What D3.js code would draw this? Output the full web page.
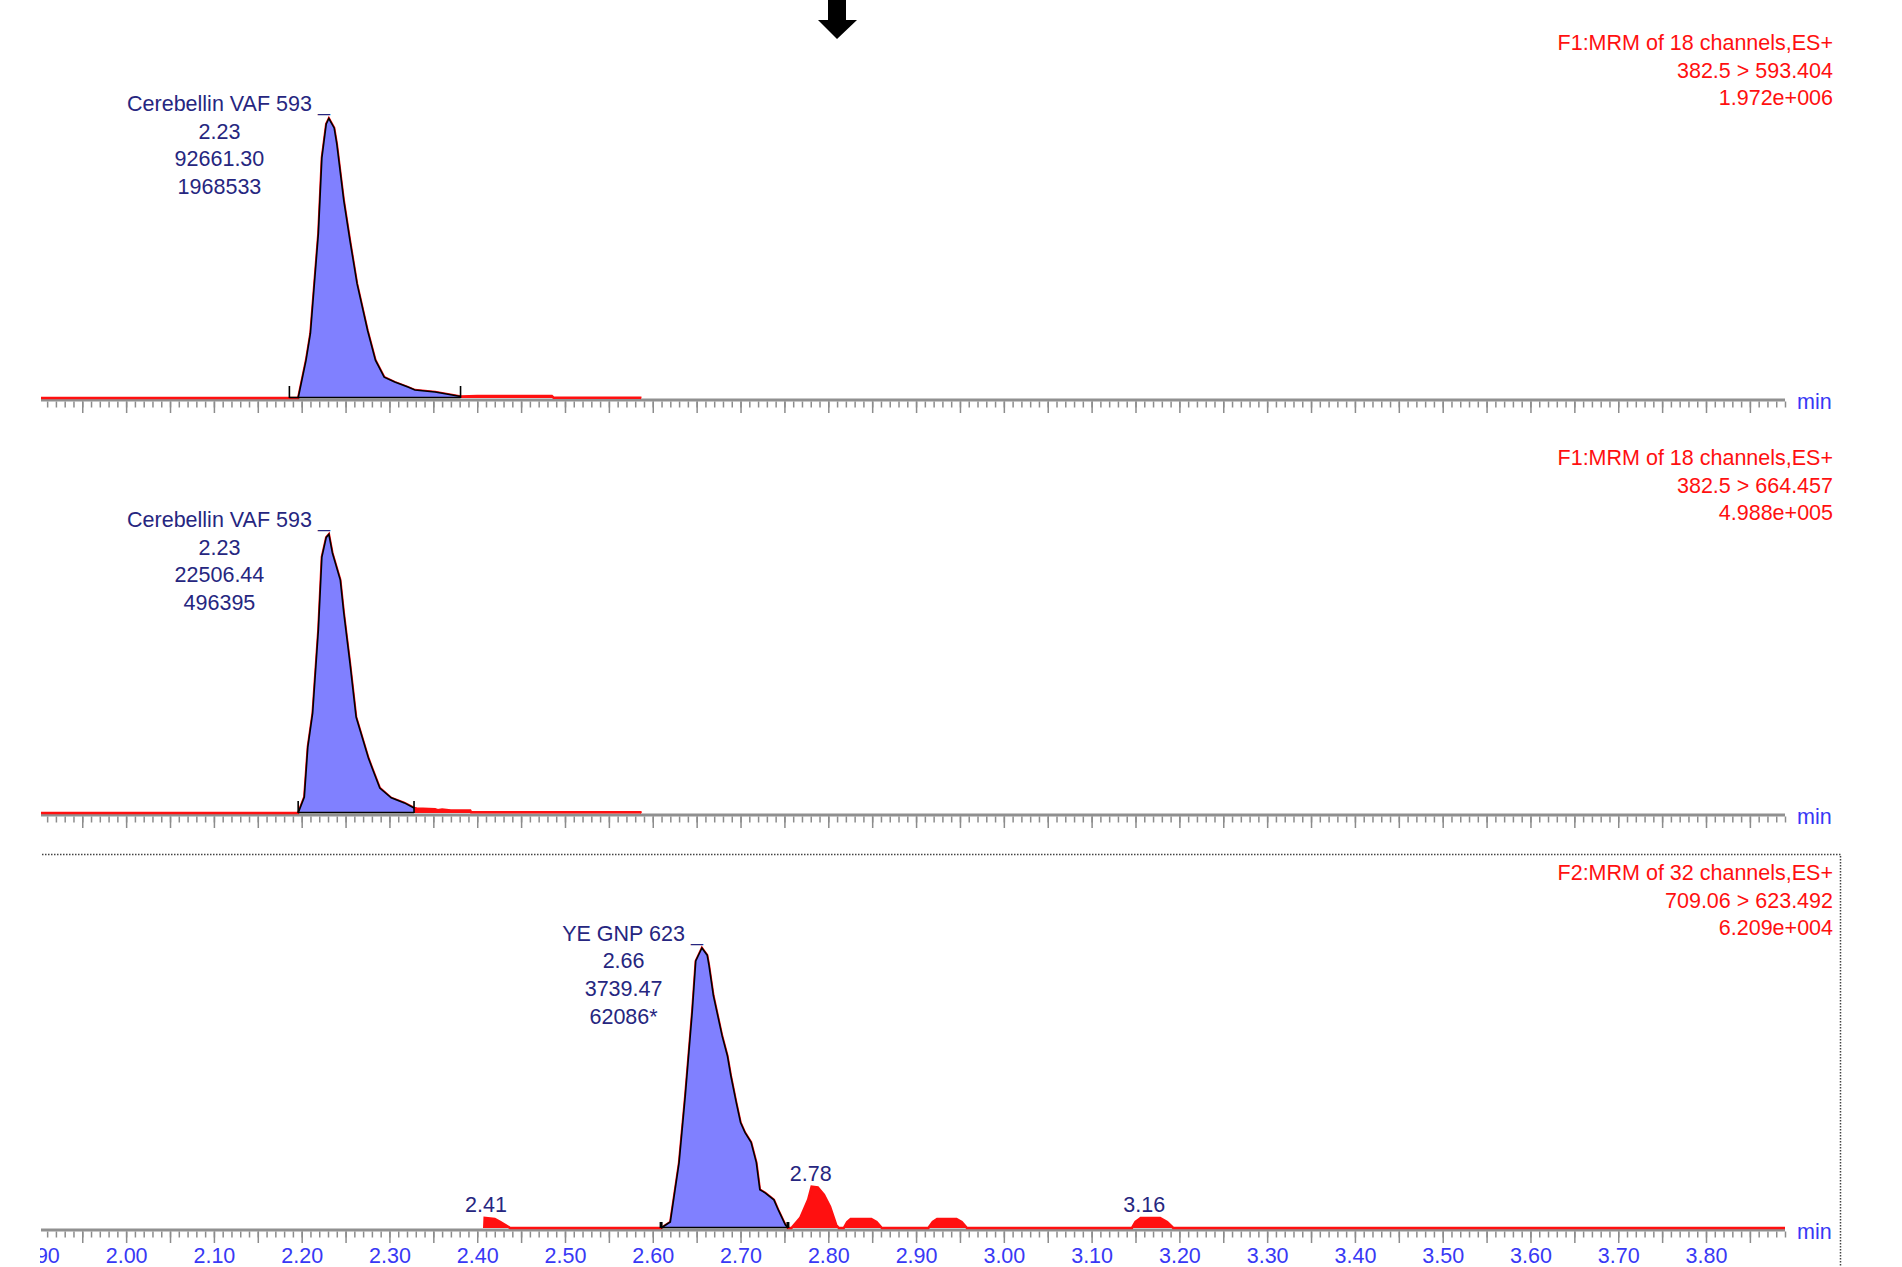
<!DOCTYPE html>
<html>
<head>
<meta charset="utf-8">
<script src="https://cdn.jsdelivr.net/npm/d3@7"></script>
<style>
  body { margin: 0; background: #fff; }
  svg { display: block; font-family: "Liberation Sans", Arial, sans-serif; }
</style>
</head>
<body>
<svg id="chart" width="1902" height="1267"></svg>
<script>
// Axis labels (min)
const tickLabels = ["1.90", "2.00", "2.10", "2.20", "2.30", "2.40", "2.50", "2.60", "2.70", "2.80",
                    "2.90", "3.00", "3.10", "3.20", "3.30", "3.40", "3.50", "3.60", "3.70", "3.80"];

// Header text for each trace
const headers = [
    ["F1:MRM of 18 channels,ES+", "382.5 > 593.404", "1.972e+006"],
    ["F1:MRM of 18 channels,ES+", "382.5 > 664.457", "4.988e+005"],
    ["F2:MRM of 32 channels,ES+", "709.06 > 623.492", "6.209e+004"]
];
const fullScale = [1.972e6, 4.988e5, 6.209e4];

// Chromatogram traces: [time (min), intensity]
const trace1 = [
    [1.903, 0], [2.196, 0], [2.205, 267000], [2.210, 456000], [2.219, 1158000], [2.223, 1691000],
    [2.228, 1930000], [2.231, 1968533], [2.237, 1902000], [2.240, 1790000], [2.248, 1389000],
    [2.255, 1109000], [2.263, 807000], [2.275, 477000], [2.284, 267000], [2.294, 147000],
    [2.306, 112000], [2.321, 77000], [2.329, 56000], [2.352, 42000], [2.365, 28000], [2.381, 10000],
    [2.400, 14000], [2.485, 14000], [2.487, 2000], [2.586, 2000], [2.587, 0]
];
const trace2 = [
    [1.903, 0], [2.196, 0], [2.203, 28500], [2.207, 117500], [2.2125, 178000], [2.219, 326000],
    [2.223, 456000], [2.228, 491000], [2.231, 496395], [2.235, 463000], [2.244, 415000],
    [2.248, 356000], [2.255, 267000], [2.262, 171000], [2.276, 98000], [2.281, 77000],
    [2.289, 44500], [2.302, 27000], [2.317, 18000], [2.328, 9000], [2.331, 8000], [2.345, 7000],
    [2.352, 6500], [2.355, 5000], [2.360, 6000], [2.370, 4500], [2.392, 4500], [2.393, 1500],
    [2.586, 1500], [2.587, 0]
];
const trace3 = [
    [2.408, 0], [2.4085, 2230], [2.420, 2010], [2.426, 1340], [2.434, 450], [2.4375, 0],
    [2.6095, 0], [2.620, 1340], [2.630, 14500], [2.637, 29250], [2.645, 48000], [2.649, 59200],
    [2.656, 62086], [2.662, 60500], [2.664, 58300], [2.669, 51600], [2.674, 47100], [2.679, 42600],
    [2.685, 38200], [2.689, 33700], [2.695, 27900], [2.700, 23400], [2.705, 21200], [2.712, 19000],
    [2.718, 14500], [2.722, 8500], [2.728, 7800], [2.738, 6250], [2.743, 4000], [2.751, 700],
    [2.754, 0],
    [2.758, 0], [2.768, 2230], [2.777, 6250], [2.781, 9155], [2.788, 9000], [2.795, 7370],
    [2.802, 4690], [2.809, 670], [2.812, 0],
    [2.8176, 0], [2.8215, 1340], [2.8255, 2010], [2.849, 2010], [2.855, 1340], [2.861, 0],
    [2.914, 0], [2.919, 1340], [2.924, 2010], [2.946, 2010], [2.952, 1340], [2.958, 0],
    [3.146, 0], [3.150, 1340], [3.156, 2230], [3.178, 2230], [3.186, 1340], [3.193, 0],
    [3.890, 0]
];
const traces = [trace1, trace2, trace3];

// Integrated peaks
const peakWindows = [[2.196, 2.381], [2.196, 2.328], [2.6095, 2.754]];
const peakMarkers = [[2.186, 2.381], [2.196, 2.328], [2.6095, 2.754]];
const peakNames = ["Cerebellin VAF 593", "Cerebellin VAF 593", "YE GNP 623"];
const peakRT = ["2.23", "2.23", "2.66"];
const peakArea = ["92661.30", "22506.44", "3739.47"];
const peakHeight = ["1968533", "496395", "62086*"];

// Unintegrated peaks labelled on the last trace
const minorRT = [2.41, 2.78, 3.16];
const minorTop = [2230, 9155, 2230];
const minorText = ["2.41", "2.78", "3.16"];

// Layout
const baselines = [398, 813, 1228];
const plotH = 280;
const fontSize = 21.5;
const lineGap = 27.7;
const red = "#ff1010";
const navy = "#262680";
const blue = "#3838f5";

const svg = d3.select("#chart");

svg.append("defs").append("clipPath")
    .attr("id", "leftClip")
    .append("rect")
    .attr("x", 40).attr("y", 0).attr("width", 1862).attr("height", 1267);

const x = d3.scaleLinear().domain([1.903, 3.89]).range([41, 1785]);

const minorTicks = d3.range(191, 390).map(v => v / 100);
const longTicks = d3.range(190, 390, 5).map(v => v / 100);
const labelTicks = tickLabels.map(Number);

traces.forEach((trace, i) => {
    const base = baselines[i];
    const y = d3.scaleLinear().domain([0, fullScale[i]]).range([base, base - plotH]);
    const g = svg.append("g").attr("clip-path", "url(#leftClip)");

    // gray time axis
    g.append("line")
        .attr("x1", x(1.903)).attr("x2", x(3.89))
        .attr("y1", base + 2).attr("y2", base + 2)
        .attr("stroke", "#909090").attr("stroke-width", 3);

    const tickG = g.append("g").attr("transform", `translate(0,${base + 3.5})`);
    tickG.append("g")
        .call(d3.axisBottom(x).tickValues(minorTicks).tickSize(6).tickFormat(""));
    tickG.append("g")
        .call(d3.axisBottom(x).tickValues(longTicks).tickSize(11.5).tickFormat(""));
    tickG.selectAll(".domain").remove();
    tickG.selectAll(".tick line").attr("stroke", "#8c8c8c").attr("stroke-width", 1.5);

    if (i === 2) {
        const lab = g.append("g").attr("transform", `translate(0,${base})`)
            .call(d3.axisBottom(x).tickValues(labelTicks).tickSize(0).tickPadding(0)
                .tickFormat((d, k) => tickLabels[k]));
        lab.select(".domain").remove();
        lab.selectAll("text")
            .attr("y", 34.5).attr("dy", null)
            .attr("fill", blue)
            .style("font-size", fontSize + "px")
            .style("font-family", "\"Liberation Sans\", Arial, sans-serif");
    }

    // raw trace in red
    g.append("path")
        .datum(trace)
        .attr("fill", red)
        .attr("d", d3.area().x(d => x(d[0])).y0(base).y1(d => y(d[1])));
    g.append("path")
        .datum(trace)
        .attr("fill", "none")
        .attr("stroke", red)
        .attr("stroke-width", 2.5)
        .attr("d", d3.line().x(d => x(d[0])).y(d => y(d[1])));

    // integrated peak
    const [t0, t1] = peakWindows[i];
    const peak = trace.filter(d => d[0] >= t0 && d[0] <= t1);
    g.append("path")
        .datum(peak)
        .attr("fill", "#8080ff")
        .attr("d", d3.area().x(d => x(d[0])).y0(base).y1(d => y(d[1])));
    g.append("path")
        .datum(peak)
        .attr("fill", "none")
        .attr("stroke", "#000")
        .attr("stroke-width", 1.6)
        .attr("d", d3.line().x(d => x(d[0])).y(d => y(d[1])));

    const [m0, m1] = peakMarkers[i];
    g.append("line")
        .attr("x1", x(m0)).attr("x2", x(m1))
        .attr("y1", base - 0.5).attr("y2", base - 0.5)
        .attr("stroke", "#000").attr("stroke-width", 1.6);

    const markLen = i === 2 ? 6 : 12;
    const markW = i === 2 ? 3 : 1.6;
    [m0, m1].forEach(t => {
        g.append("line")
            .attr("x1", x(t)).attr("x2", x(t))
            .attr("y1", base).attr("y2", base - markLen)
            .attr("stroke", "#000").attr("stroke-width", markW);
    });

    // peak annotation
    const apex = peak.reduce((a, b) => (b[1] > a[1] ? b : a));
    const ax = x(apex[0]), ay = y(apex[1]);
    const textY = ay - 7.5;
    g.append("text")
        .attr("x", ax + 1).attr("y", textY)
        .attr("text-anchor", "end")
        .attr("fill", navy)
        .style("font-size", fontSize + "px")
        .text("_");
    const nameNode = g.append("text")
        .attr("x", ax - 17).attr("y", textY)
        .attr("text-anchor", "end")
        .attr("fill", navy)
        .style("font-size", fontSize + "px")
        .text(peakNames[i]);
    const cx = ax - 17 - nameNode.node().getComputedTextLength() / 2;
    [peakRT[i], peakArea[i], peakHeight[i]].forEach((s, k) => {
        g.append("text")
            .attr("x", cx).attr("y", textY + lineGap * (k + 1))
            .attr("text-anchor", "middle")
            .attr("fill", navy)
            .style("font-size", fontSize + "px")
            .text(s);
    });

    // header at right
    headers[i].forEach((s, k) => {
        g.append("text")
            .attr("x", 1833).attr("y", base - 348 + lineGap * k)
            .attr("text-anchor", "end")
            .attr("fill", red)
            .style("font-size", fontSize + "px")
            .text(s);
    });

    g.append("text")
        .attr("x", 1797).attr("y", base + 10.5)
        .attr("fill", blue)
        .style("font-size", fontSize + "px")
        .text("min");
});

// labels on the small peaks of the last trace
const y3 = d3.scaleLinear().domain([0, fullScale[2]]).range([baselines[2], baselines[2] - plotH]);
svg.selectAll(".minor-label")
    .data(minorText)
    .join("text")
    .attr("class", "minor-label")
    .attr("x", (d, k) => x(minorRT[k]))
    .attr("y", (d, k) => y3(minorTop[k]) - 5.5)
    .attr("text-anchor", "middle")
    .attr("fill", navy)
    .style("font-size", fontSize + "px")
    .text(d => d);

// dotted frame round the last trace
svg.append("path")
    .attr("d", "M42,854.5H1840.5V1267")
    .attr("fill", "none")
    .attr("stroke", "#444")
    .attr("stroke-width", 1.5)
    .attr("stroke-dasharray", "1.5,1.5");

// marker arrow at the top
svg.append("path")
    .attr("d", "M828,0H846V20H857L837,39L818,20H828Z")
    .attr("fill", "#000");
</script>
</body>
</html>
